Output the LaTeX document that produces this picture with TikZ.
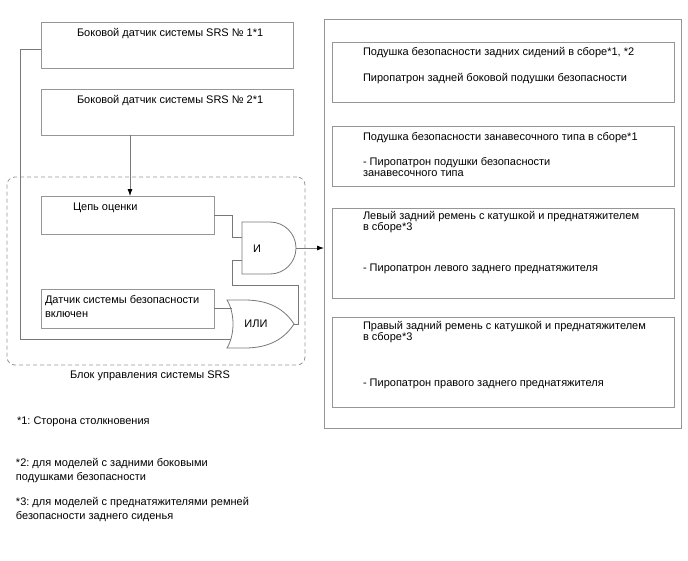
\documentclass[tikz,border=0pt]{standalone}
\usepackage{fontspec}
\setmainfont{Liberation Sans}
\usetikzlibrary{arrows.meta}
\definecolor{boxgray}{RGB}{150,150,150}
\definecolor{linegray}{RGB}{120,120,120}
\frenchspacing
\begin{document}
\begin{tikzpicture}[x=1pt,y=-1pt,
  box/.style={draw=boxgray, line width=0.8pt, anchor=north west, inner sep=0pt, outer sep=0pt},
  txt/.style={anchor=base west, inner sep=0pt, outer sep=0pt, font=\fontsize{11}{11}\selectfont},
  conn/.style={draw=linegray, line width=0.8pt},
  arr/.style={-{Latex[length=7pt,width=5pt,color=black]}},
  gate/.style={draw=linegray, line width=0.8pt, fill=white}]
\useasboundingbox (0,0) rectangle (688,560);

% left boxes
\node[box, minimum width=252pt, minimum height=46pt] (s1) at (41,22) {};
\node[box, minimum width=252pt, minimum height=46pt] (s2) at (41,89) {};
\node[box, dashed, dash pattern=on 4pt off 3pt, rounded corners=8pt, minimum width=298pt, minimum height=188pt] (ecu) at (7,177) {};
\node[box, minimum width=173pt, minimum height=38pt] (eval) at (41,196) {};
\node[box, minimum width=173pt, minimum height=39pt] (sens) at (41,289) {};

% right boxes
\node[box, minimum width=357pt, minimum height=409pt] (out) at (324,19) {};
\node[box, minimum width=342pt, minimum height=60pt] (ra) at (332,42) {};
\node[box, minimum width=342pt, minimum height=60pt] (rb) at (332,126) {};
\node[box, minimum width=342pt, minimum height=90pt] (rc) at (332,208) {};
\node[box, minimum width=342pt, minimum height=90pt] (rd) at (332,317) {};

% gates
\draw[gate] (242,222) -- (270,222) arc[start angle=90, end angle=-90, radius=26pt] -- (242,274) -- cycle;
\draw[gate] (227,300) -- (245,300) .. controls (270,300) and (285,310) .. (294,324)
  .. controls (285,338) and (270,348) .. (245,348) -- (227,348)
  .. controls (235,335) and (235,313) .. (227,300) -- cycle;
\coordinate (andin1) at (242,237);
\coordinate (andin2) at (242,260);
\coordinate (andout) at (296,248);
\coordinate (orin1) at (232,308.5);
\coordinate (orin2) at (231,339);
\coordinate (orout) at (294,324);
\coordinate (x130) at (130,0);

% connectors
\draw[conn] ([yshift=-4pt]s1.west) -- ++(-21,0) |- (orin2);
\draw[conn, arr] (s2.south -| x130) -- (eval.north -| x130);
\draw[conn] (eval.east) -- ++(18,0) |- (andin1);
\draw[conn] (andin2) -- ++(-10,0) |- ++(66,25) |- (orout);
\draw[conn] (sens.east) -- (orin1);
\draw[conn, arr] (andout) -- (andout -| out.west);

% texts
\node[txt] (t1) at (77,36) {Боковой датчик системы SRS № 1*1};
\node[txt] (t2) at (77,103) {Боковой датчик системы SRS № 2*1};
\node[txt] (t3) at (73,210) {Цепь оценки};
\node[txt] (t4) at (45,303) {Датчик системы безопасности};
\node[txt] (t4b) at (45,317) {включен};
\node[txt, anchor=base] (tand) at (257,252) {И};
\node[txt, anchor=base] (tor) at (256,327.5) {ИЛИ};
\node[txt, anchor=base] (tecu) at (150,378.5) {Блок управления системы SRS};

\node[txt] (ta1) at (363,55) {Подушка безопасности задних сидений в сборе*1, *2};
\node[txt] (ta2) at (363,81) {Пиропатрон задней боковой подушки безопасности};
\node[txt] (tb1) at (363,140) {Подушка безопасности занавесочного типа в сборе*1};
\node[txt] (tb2) at (363,165) {- Пиропатрон подушки безопасности};
\node[txt] (tb3) at (363,176) {занавесочного типа};
\node[txt] (tc1) at (363,219.5) {Левый задний ремень с катушкой и преднатяжителем};
\node[txt] (tc2) at (363,230.5) {в сборе*3};
\node[txt] (tc3) at (363,271) {- Пиропатрон левого заднего преднатяжителя};
\node[txt] (td1) at (363,329.5) {Правый задний ремень с катушкой и преднатяжителем};
\node[txt] (td2) at (363,340.5) {в сборе*3};
\node[txt] (td3) at (363,386) {- Пиропатрон правого заднего преднатяжителя};

\node[txt] (f1) at (17,424) {*1: Сторона столкновения};
\node[txt] (f2) at (16,466) {*2: для моделей с задними боковыми};
\node[txt] (f2b) at (16,480) {подушками безопасности};
\node[txt] (f3) at (16,505) {*3: для моделей с преднатяжителями ремней};
\node[txt] (f3b) at (16,519) {безопасности заднего сиденья};
\end{tikzpicture}
\end{document}
